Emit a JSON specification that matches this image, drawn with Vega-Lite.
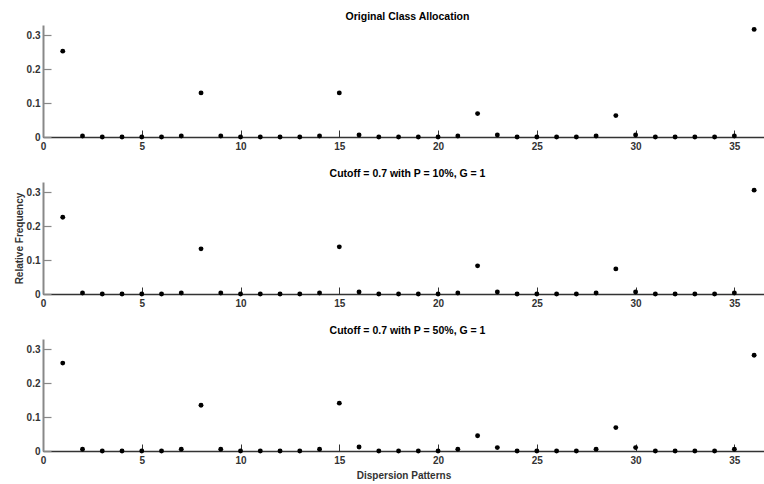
{
  "$schema": "https://vega.github.io/schema/vega-lite/v6.json",
  "padding": {"left": 14, "right": 0, "top": 11, "bottom": 2},
  "background": "white",
  "spacing": 17,
  "datasets": {
    "original": [
      {"pattern": 1, "freq": 0.253}, {"pattern": 2, "freq": 0.003}, {"pattern": 3, "freq": 0.0}, {"pattern": 4, "freq": 0.0},
      {"pattern": 5, "freq": 0.0}, {"pattern": 6, "freq": 0.0}, {"pattern": 7, "freq": 0.003}, {"pattern": 8, "freq": 0.130},
      {"pattern": 9, "freq": 0.003}, {"pattern": 10, "freq": 0.0}, {"pattern": 11, "freq": 0.0}, {"pattern": 12, "freq": 0.0},
      {"pattern": 13, "freq": 0.0}, {"pattern": 14, "freq": 0.003}, {"pattern": 15, "freq": 0.130}, {"pattern": 16, "freq": 0.006},
      {"pattern": 17, "freq": 0.0}, {"pattern": 18, "freq": 0.0}, {"pattern": 19, "freq": 0.0}, {"pattern": 20, "freq": 0.0},
      {"pattern": 21, "freq": 0.003}, {"pattern": 22, "freq": 0.069}, {"pattern": 23, "freq": 0.006}, {"pattern": 24, "freq": 0.0},
      {"pattern": 25, "freq": 0.0}, {"pattern": 26, "freq": 0.0}, {"pattern": 27, "freq": 0.0}, {"pattern": 28, "freq": 0.003},
      {"pattern": 29, "freq": 0.063}, {"pattern": 30, "freq": 0.006}, {"pattern": 31, "freq": 0.0}, {"pattern": 32, "freq": 0.0},
      {"pattern": 33, "freq": 0.0}, {"pattern": 34, "freq": 0.0}, {"pattern": 35, "freq": 0.003}, {"pattern": 36, "freq": 0.317}
    ],
    "p10": [
      {"pattern": 1, "freq": 0.226}, {"pattern": 2, "freq": 0.003}, {"pattern": 3, "freq": 0.0}, {"pattern": 4, "freq": 0.0},
      {"pattern": 5, "freq": 0.0}, {"pattern": 6, "freq": 0.0}, {"pattern": 7, "freq": 0.003}, {"pattern": 8, "freq": 0.133},
      {"pattern": 9, "freq": 0.003}, {"pattern": 10, "freq": 0.0}, {"pattern": 11, "freq": 0.0}, {"pattern": 12, "freq": 0.0},
      {"pattern": 13, "freq": 0.0}, {"pattern": 14, "freq": 0.003}, {"pattern": 15, "freq": 0.139}, {"pattern": 16, "freq": 0.006},
      {"pattern": 17, "freq": 0.0}, {"pattern": 18, "freq": 0.0}, {"pattern": 19, "freq": 0.0}, {"pattern": 20, "freq": 0.0},
      {"pattern": 21, "freq": 0.003}, {"pattern": 22, "freq": 0.083}, {"pattern": 23, "freq": 0.006}, {"pattern": 24, "freq": 0.0},
      {"pattern": 25, "freq": 0.0}, {"pattern": 26, "freq": 0.0}, {"pattern": 27, "freq": 0.0}, {"pattern": 28, "freq": 0.003},
      {"pattern": 29, "freq": 0.074}, {"pattern": 30, "freq": 0.006}, {"pattern": 31, "freq": 0.0}, {"pattern": 32, "freq": 0.0},
      {"pattern": 33, "freq": 0.0}, {"pattern": 34, "freq": 0.0}, {"pattern": 35, "freq": 0.003}, {"pattern": 36, "freq": 0.306}
    ],
    "p50": [
      {"pattern": 1, "freq": 0.259}, {"pattern": 2, "freq": 0.005}, {"pattern": 3, "freq": 0.0}, {"pattern": 4, "freq": 0.0},
      {"pattern": 5, "freq": 0.0}, {"pattern": 6, "freq": 0.0}, {"pattern": 7, "freq": 0.005}, {"pattern": 8, "freq": 0.135},
      {"pattern": 9, "freq": 0.005}, {"pattern": 10, "freq": 0.0}, {"pattern": 11, "freq": 0.0}, {"pattern": 12, "freq": 0.0},
      {"pattern": 13, "freq": 0.0}, {"pattern": 14, "freq": 0.005}, {"pattern": 15, "freq": 0.141}, {"pattern": 16, "freq": 0.012},
      {"pattern": 17, "freq": 0.0}, {"pattern": 18, "freq": 0.0}, {"pattern": 19, "freq": 0.0}, {"pattern": 20, "freq": 0.0},
      {"pattern": 21, "freq": 0.005}, {"pattern": 22, "freq": 0.045}, {"pattern": 23, "freq": 0.010}, {"pattern": 24, "freq": 0.0},
      {"pattern": 25, "freq": 0.0}, {"pattern": 26, "freq": 0.0}, {"pattern": 27, "freq": 0.0}, {"pattern": 28, "freq": 0.005},
      {"pattern": 29, "freq": 0.069}, {"pattern": 30, "freq": 0.010}, {"pattern": 31, "freq": 0.0}, {"pattern": 32, "freq": 0.0},
      {"pattern": 33, "freq": 0.0}, {"pattern": 34, "freq": 0.0}, {"pattern": 35, "freq": 0.005}, {"pattern": 36, "freq": 0.282}
    ]
  },
  "config": {
    "view": {"stroke": null},
    "font": "Liberation Sans",
    "title": {"font": "Liberation Sans", "fontSize": 10.5, "fontWeight": "bold", "color": "#000", "offset": 3, "anchor": "middle", "dx": 4},
    "axis": {"labelFont": "Liberation Sans", "labelFontSize": 10, "labelFontWeight": "bold", "labelColor": "#333", "titleFont": "Liberation Sans", "titleFontSize": 10, "titleFontWeight": "bold", "titleColor": "#333", "grid": false, "labelFlush": false, "labelOverlap": false},
    "axisX": {"domainColor": "#333", "domainWidth": 1.5, "tickColor": "#333", "tickWidth": 1, "tickSize": -7, "labelPadding": 11},
    "axisY": {"domainColor": "#888", "domainWidth": 2, "tickColor": "#888", "tickWidth": 1.2, "tickSize": -8, "labelPadding": 11, "format": "~g"},
    "point": {"filled": true, "color": "#000", "size": 24, "opacity": 1}
  },
  "vconcat": [
    {
      "width": 721, "height": 112,
      "title": "Original Class Allocation",
      "data": {"name": "original"},
      "mark": "point",
      "encoding": {
        "x": {"field": "pattern", "type": "quantitative", "scale": {"domain": [0, 36.5], "nice": false}, "axis": {"title": null, "values": [0, 5, 10, 15, 20, 25, 30, 35]}},
        "y": {"field": "freq", "type": "quantitative", "scale": {"domain": [0, 0.33], "nice": false}, "axis": {"title": null, "values": [0, 0.1, 0.2, 0.3]}}
      }
    },
    {
      "width": 721, "height": 112,
      "title": "Cutoff = 0.7 with P = 10%, G = 1",
      "data": {"name": "p10"},
      "mark": "point",
      "encoding": {
        "x": {"field": "pattern", "type": "quantitative", "scale": {"domain": [0, 36.5], "nice": false}, "axis": {"title": null, "values": [0, 5, 10, 15, 20, 25, 30, 35]}},
        "y": {"field": "freq", "type": "quantitative", "scale": {"domain": [0, 0.33], "nice": false}, "axis": {"title": "Relative Frequency", "titlePadding": 2, "values": [0, 0.1, 0.2, 0.3]}}
      }
    },
    {
      "width": 721, "height": 112,
      "title": "Cutoff = 0.7 with P = 50%, G = 1",
      "data": {"name": "p50"},
      "mark": "point",
      "encoding": {
        "x": {"field": "pattern", "type": "quantitative", "scale": {"domain": [0, 36.5], "nice": false}, "axis": {"title": "Dispersion Patterns", "titlePadding": 5, "values": [0, 5, 10, 15, 20, 25, 30, 35]}},
        "y": {"field": "freq", "type": "quantitative", "scale": {"domain": [0, 0.33], "nice": false}, "axis": {"title": null, "values": [0, 0.1, 0.2, 0.3]}}
      }
    }
  ]
}
